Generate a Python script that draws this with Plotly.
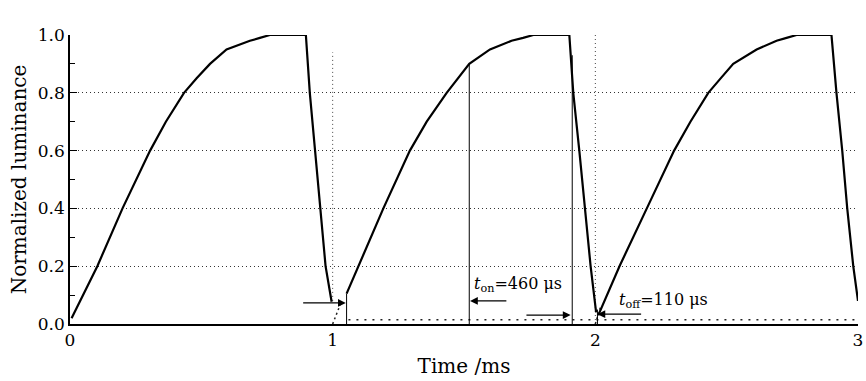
import plotly.graph_objects as go

# ---- data ----
t_seg1 = [0.006, 0.05, 0.104, 0.20, 0.305, 0.365, 0.434, 0.482, 0.533, 0.596, 0.685, 0.723, 0.761,
          0.898, 0.913, 0.933, 0.952, 0.973, 0.996]
y_seg1 = [0.02, 0.10, 0.20, 0.40, 0.60, 0.70, 0.80, 0.85, 0.90, 0.95, 0.98, 0.99, 1.0,
          1.0, 0.80, 0.60, 0.40, 0.20, 0.077]

t_seg2 = [1.053, 1.098, 1.193, 1.294, 1.358, 1.434, 1.478, 1.520, 1.599, 1.681, 1.725, 1.764,
          1.901, 1.916, 1.939, 1.960, 1.982, 2.003]
y_seg2 = [0.105, 0.20, 0.40, 0.60, 0.70, 0.80, 0.85, 0.90, 0.95, 0.98, 0.99, 1.0,
          1.0, 0.80, 0.60, 0.40, 0.20, 0.04]

t_seg3 = [2.011, 2.092, 2.196, 2.300, 2.362, 2.430, 2.477, 2.525, 2.614, 2.690, 2.728, 2.766,
          2.899, 2.918, 2.940, 2.959, 2.982, 3.0]
y_seg3 = [0.03, 0.20, 0.40, 0.60, 0.70, 0.80, 0.85, 0.90, 0.95, 0.98, 0.99, 1.0,
          1.0, 0.80, 0.60, 0.40, 0.20, 0.08]

# vertical marker lines (time, top value)
marker_t = [1.053, 1.52, 1.912, 2.008]
marker_top = [0.105, 0.90, 0.93, 0.05]

# dotted reference lines
dot_v_t = [1.0, 2.0]
dot_v_bottom = [0.08, 0.0]
dot_v_top = [0.94, 1.0]
base_t = [1.06, 3.0]
base_y = [0.015, 0.015]

labels = ["shutter <i>n</i>-1", "shutter <i>n</i>", "shutter <i>n</i>+1"]
label_t = [0.727, 1.626, 2.83]

x_ticks = [0, 1, 2, 3]
y_ticks = [0.0, 0.2, 0.4, 0.6, 0.8, 1.0]

FONT = "DejaVu Serif"
fig = go.Figure()

for t, b, top in zip(dot_v_t, dot_v_bottom, dot_v_top):
    fig.add_trace(go.Scatter(x=[t, t], y=[b, top], mode="lines",
                             line=dict(color="#444", width=1, dash="1px,3px")))

fig.add_trace(go.Scatter(x=base_t, y=base_y, mode="lines",
                         line=dict(color="#222", width=1.5, dash="2px,6px")))

# small dotted extrapolations near the bottom
fig.add_trace(go.Scatter(x=[1.0, 1.03], y=[0.0, 0.07], mode="lines",
                         line=dict(color="#222", width=1.5, dash="2px,3px")))
fig.add_trace(go.Scatter(x=[2.0, 2.02], y=[0.0, 0.06], mode="lines",
                         line=dict(color="#222", width=1.5, dash="2px,3px")))

for t, top in zip(marker_t, marker_top):
    fig.add_trace(go.Scatter(x=[t, t], y=[0, top], mode="lines",
                             line=dict(color="black", width=1)))

for tt, yy in [(t_seg1, y_seg1), (t_seg2, y_seg2), (t_seg3, y_seg3)]:
    fig.add_trace(go.Scatter(x=tt, y=yy, mode="lines",
                             line=dict(color="black", width=2.2),
                             hoverinfo="skip"))

annotations = []
for lab, t in zip(labels, label_t):
    annotations.append(dict(x=t, y=1.066, xref="x", yref="y", text=lab,
                            showarrow=False, font=dict(family=FONT, size=16, color="black")))

def arrow(x0, x1, y):
    return dict(x=x1, y=y, ax=x0, ay=y, xref="x", yref="y", axref="x", ayref="y",
                text="", showarrow=True, arrowhead=2, arrowsize=1.2, arrowwidth=1.3,
                arrowcolor="black")

annotations += [
    arrow(0.882, 1.05, 0.073),
    arrow(1.667, 1.523, 0.08),
    arrow(1.732, 1.906, 0.031),
    arrow(2.18, 2.008, 0.034),
    dict(x=1.706, y=0.135, xref="x", yref="y", showarrow=False,
         text="<i>t</i><sub>on</sub>=460 μs", font=dict(family=FONT, size=16, color="black")),
    dict(x=2.26, y=0.08, xref="x", yref="y", showarrow=False,
         text="<i>t</i><sub>off</sub>=110 μs", font=dict(family=FONT, size=16, color="black")),
]

fig.update_layout(
    width=866, height=381,
    margin=dict(l=70, r=8, t=35, b=57),
    plot_bgcolor="white", paper_bgcolor="white",
    showlegend=False,
    font=dict(family=FONT, size=17, color="black"),
    annotations=annotations,
    xaxis=dict(range=[0, 3], tickvals=x_ticks, ticktext=[str(v) for v in x_ticks],
               showgrid=False, zeroline=False, showline=True, linecolor="black",
               linewidth=1.5, ticks="", automargin=False,
               title=dict(text="Time /ms", standoff=10)),
    yaxis=dict(range=[0, 1.0], tickvals=y_ticks, ticktext=[f"{v:.1f}" for v in y_ticks],
               showgrid=True, gridcolor="#333", griddash="1px,3px", gridwidth=1,
               zeroline=False, showline=True, linecolor="black", linewidth=1.5,
               ticks="inside", ticklen=7, tickcolor="black", automargin=False,
               minor=dict(tickvals=[0.1, 0.3, 0.5, 0.7, 0.9], ticks="inside",
                          ticklen=5, tickcolor="black", showgrid=False),
               title=dict(text="Normalized luminance", standoff=6)),
)

fig.write_html("out.html")
